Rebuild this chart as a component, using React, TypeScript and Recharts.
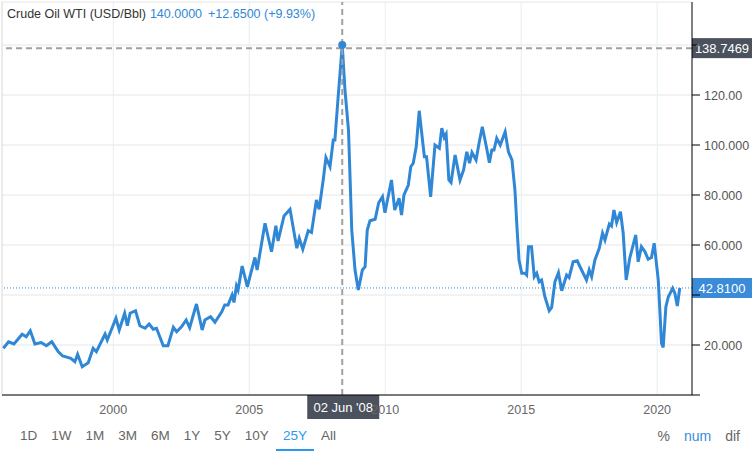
import React from 'react';
import { LineChart, Line, XAxis, YAxis, CartesianGrid, ReferenceLine, ReferenceDot } from 'recharts';

// decimal year of each sampled point, and WTI price (USD/Bbl)
const years = [
  1995.96, 1996.15, 1996.35, 1996.65, 1996.8, 1996.95, 1997.12, 1997.35, 1997.54, 1997.74, 1997.98,
  1998.14, 1998.44, 1998.59, 1998.69, 1998.86, 1999.08, 1999.26, 1999.38, 1999.7, 1999.78,
  2000.1, 2000.22, 2000.42, 2000.52, 2000.62, 2000.82, 2000.98, 2001.17, 2001.32, 2001.47, 2001.59, 2001.84,
  2002.01, 2002.21, 2002.33, 2002.51, 2002.68, 2002.81, 2003.06, 2003.27, 2003.37, 2003.58, 2003.74, 2003.99,
  2004.1, 2004.22, 2004.37, 2004.44, 2004.53, 2004.59, 2004.74, 2004.93, 2005.21, 2005.29, 2005.58, 2005.82,
  2005.98, 2006.06, 2006.28, 2006.5, 2006.75, 2006.84, 2006.97, 2007.17, 2007.29, 2007.47, 2007.57, 2007.72,
  2007.82, 2007.97, 2008.09, 2008.15, 2008.27, 2008.42, 2008.52, 2008.65, 2008.77, 2008.89, 2009.01, 2009.16,
  2009.26, 2009.34, 2009.44, 2009.63, 2009.76, 2009.9, 2009.99, 2010.23, 2010.35, 2010.51, 2010.6, 2010.69,
  2010.85, 2010.94, 2011.03, 2011.14, 2011.25, 2011.44, 2011.52, 2011.67, 2011.83, 2011.99, 2012.08, 2012.17,
  2012.24, 2012.34, 2012.42, 2012.57, 2012.75, 2012.88, 2013.0, 2013.1, 2013.19, 2013.34, 2013.45, 2013.57,
  2013.73, 2013.83, 2013.92, 2014.0, 2014.1, 2014.23, 2014.41, 2014.53, 2014.66, 2014.77, 2014.85, 2014.92,
  2015.02, 2015.14, 2015.2, 2015.27, 2015.38, 2015.48, 2015.57, 2015.66, 2015.75, 2015.87, 2016.03, 2016.12,
  2016.24, 2016.37, 2016.49, 2016.67, 2016.76, 2016.91, 2017.06, 2017.22, 2017.4, 2017.5, 2017.59, 2017.71,
  2017.87, 2017.99, 2018.08, 2018.24, 2018.32, 2018.41, 2018.51, 2018.65, 2018.75, 2018.86, 2018.99, 2019.21,
  2019.3, 2019.42, 2019.55, 2019.67, 2019.79, 2019.89, 2020.04, 2020.16, 2020.22, 2020.32, 2020.41, 2020.57,
  2020.65, 2020.74, 2020.83,
];
const prices = [
  18.7, 21.3, 20.4, 24.3, 23.3, 25.7, 20.4, 21, 19.7, 21.3, 17.3,
  15.6, 14.7, 13.3, 16.3, 11.3, 12.9, 18.7, 17.3, 24.4, 22,
  30.7, 26, 32.7, 27.7, 32.7, 33.7, 27.7, 26.7, 28.4, 26.3, 26.7, 19.7,
  19.7, 27.1, 25.3, 27.3, 30, 26.9, 36.4, 26, 30, 31.3, 29.1, 33.3,
  36, 36, 40, 37, 43.6, 42, 51.6, 43.3, 55, 50, 68.7, 57.3,
  67.7, 61.6, 71.6, 74.3, 58.7, 62.7, 58.3, 65.7, 65, 78, 74.3, 86,
  95, 91.3, 102, 102, 119.3, 140, 122, 106, 66, 50, 42, 50,
  51.3, 66, 69.7, 70.3, 76.9, 79.3, 72.9, 86, 74, 78.7, 72, 80,
  84, 91.3, 92.7, 99.3, 113.7, 95.3, 95.3, 79.3, 100, 98.7, 106.7, 103,
  104.4, 86, 85, 96, 86, 90, 97.3, 92.7, 97, 94, 100.7, 107.3,
  98.7, 92.9, 98, 98, 102.7, 100, 105.3, 97.3, 94, 82, 66, 54,
  48.7, 48.7, 48, 59.3, 59.3, 47.3, 48.7, 45.3, 46, 39.3, 33.7, 35,
  45.3, 48.9, 41.7, 48, 47, 53.3, 53.7, 50, 46, 50, 47.3, 54,
  58.7, 64.7, 62, 68.4, 67.6, 74, 69, 73.3, 64.7, 46, 54.7, 64,
  53.3, 59.3, 57.3, 54.3, 55, 60.7, 46, 20.7, 19, 35.3, 39.3, 42.7,
  40.7, 35.6, 42.81,
];

const xTicks = [2000, 2005, 2010, 2015, 2020];
const yTicks = [0, 20, 40, 60, 80, 100, 120, 140];
// 0 and 140 carry no label; 40 sits under the last-price box
const yTickLabels = ['', '20.000', '', '60.000', '80.000', '100.000', '120.00', ''];
const ranges = ['1D', '1W', '1M', '3M', '6M', '1Y', '5Y', '10Y', '25Y', 'All'];
const modes = ['%', 'num', 'dif'];

const peakYear = 2008.42;
const peakValue = 140;
const crossValue = 138.7469;
const lastValue = 42.81;

const BLUE = '#2f87d5';
const FONT = 'Arial, "Liberation Sans", sans-serif';

const data = years.map((y, i) => ({ year: y, price: prices[i] }));

const XTick = ({ x, y, payload }: any) => (
  <text x={x} y={y + 19} textAnchor="middle" fontSize={12.5} fill="#666" fontFamily={FONT}>
    {payload.value}
  </text>
);

const YTick = ({ x, y, payload }: any) => (
  <text x={x} y={y + 5} textAnchor="start" fontSize={12.5} fill="#555" fontFamily={FONT}>
    {yTickLabels[yTicks.indexOf(payload.value)] ?? ''}
  </text>
);

const boxLabel = (text: string, fill: string) => ({ viewBox }: any) => {
  const { x, y, width } = viewBox;
  return (
    <g>
      <rect x={x + width} y={y - 10} width={60} height={20} fill={fill} />
      <text x={x + width + 30} y={y + 5} textAnchor="middle" fontSize={13} fill="#fff" fontFamily={FONT}>
        {text}
      </text>
    </g>
  );
};

const dateLabel = ({ viewBox }: any) => {
  const { x, y, height } = viewBox;
  return (
    <g>
      <rect x={x - 35} y={y + height} width={72} height={24} fill="#4b525d" />
      <text x={x + 1} y={y + height + 17} textAnchor="middle" fontSize={13} fill="#fff" fontFamily={FONT}>
        02 Jun '08
      </text>
    </g>
  );
};

export default function App() {
  return (
    <div style={{ position: 'absolute', left: 0, top: 0, width: 752, height: 453, background: '#fff', fontFamily: FONT }}>
      <LineChart width={752} height={453} data={data} margin={{ top: 2, right: 0, left: 2, bottom: 38 }}>
        <CartesianGrid vertical={false} stroke="#e6e6e6" />
        {xTicks.map((t) => (
          <ReferenceLine key={t} x={t} stroke="#e6eef5" />
        ))}
        <ReferenceLine x={1995.91} stroke="#d8d8d8" />
        <XAxis
          dataKey="year"
          type="number"
          domain={[1995.91, 2021.28]}
          ticks={xTicks}
          allowDataOverflow
          height={20}
          tickLine={false}
          tickSize={0}
          tickMargin={0}
          axisLine={{ stroke: '#000' }}
          tick={<XTick />}
        />
        <YAxis
          orientation="right"
          type="number"
          domain={[0, 157.2]}
          ticks={yTicks}
          allowDataOverflow
          width={60}
          tickSize={8}
          tickMargin={4}
          tickLine={{ stroke: '#000' }}
          axisLine={{ stroke: '#000' }}
          tick={<YTick />}
        />
        <ReferenceLine y={lastValue} stroke={BLUE} strokeDasharray="1 2" label={boxLabel('42.8100', '#3a8bd8')} />
        <Line
          type="linear"
          dataKey="price"
          stroke={BLUE}
          strokeWidth={3}
          dot={false}
          isAnimationActive={false}
        />
        <ReferenceLine x={peakYear} stroke="#a0a0a0" strokeWidth={2} strokeDasharray="6 4" label={dateLabel} />
        <ReferenceLine y={crossValue} stroke="#a0a0a0" strokeWidth={2} strokeDasharray="6 4" label={boxLabel('138.7469', '#4b525d')} />
        <ReferenceDot x={peakYear} y={peakValue} r={4} fill={BLUE} stroke="none" />
      </LineChart>

      <div style={{ position: 'absolute', left: 7, top: 7, fontSize: 12.5, color: '#333', whiteSpace: 'nowrap', lineHeight: '15px' }}>
        Crude Oil WTI (USD/Bbl)
        <span style={{ color: BLUE, marginLeft: 4 }}>140.0000</span>
        <span style={{ color: BLUE, marginLeft: 6 }}>+12.6500 (+9.93%)</span>
      </div>

      <div style={{ position: 'absolute', left: 13, top: 426, display: 'flex', fontSize: 13.5, color: '#666' }}>
        {ranges.map((r) => (
          <div
            key={r}
            style={{
              padding: '0 7px',
              height: 25,
              lineHeight: '20px',
              boxSizing: 'border-box',
              color: r === '25Y' ? '#2a9af0' : '#666',
              borderBottom: r === '25Y' ? '2px solid #2a9af0' : '2px solid transparent',
            }}
          >
            {r}
          </div>
        ))}
      </div>

      <div style={{ position: 'absolute', right: 12, top: 426, display: 'flex', gap: 14, fontSize: 14, lineHeight: '20px' }}>
        {modes.map((m) => (
          <span key={m} style={{ color: m === 'num' ? '#3a8bd8' : '#666' }}>
            {m}
          </span>
        ))}
      </div>
    </div>
  );
}
